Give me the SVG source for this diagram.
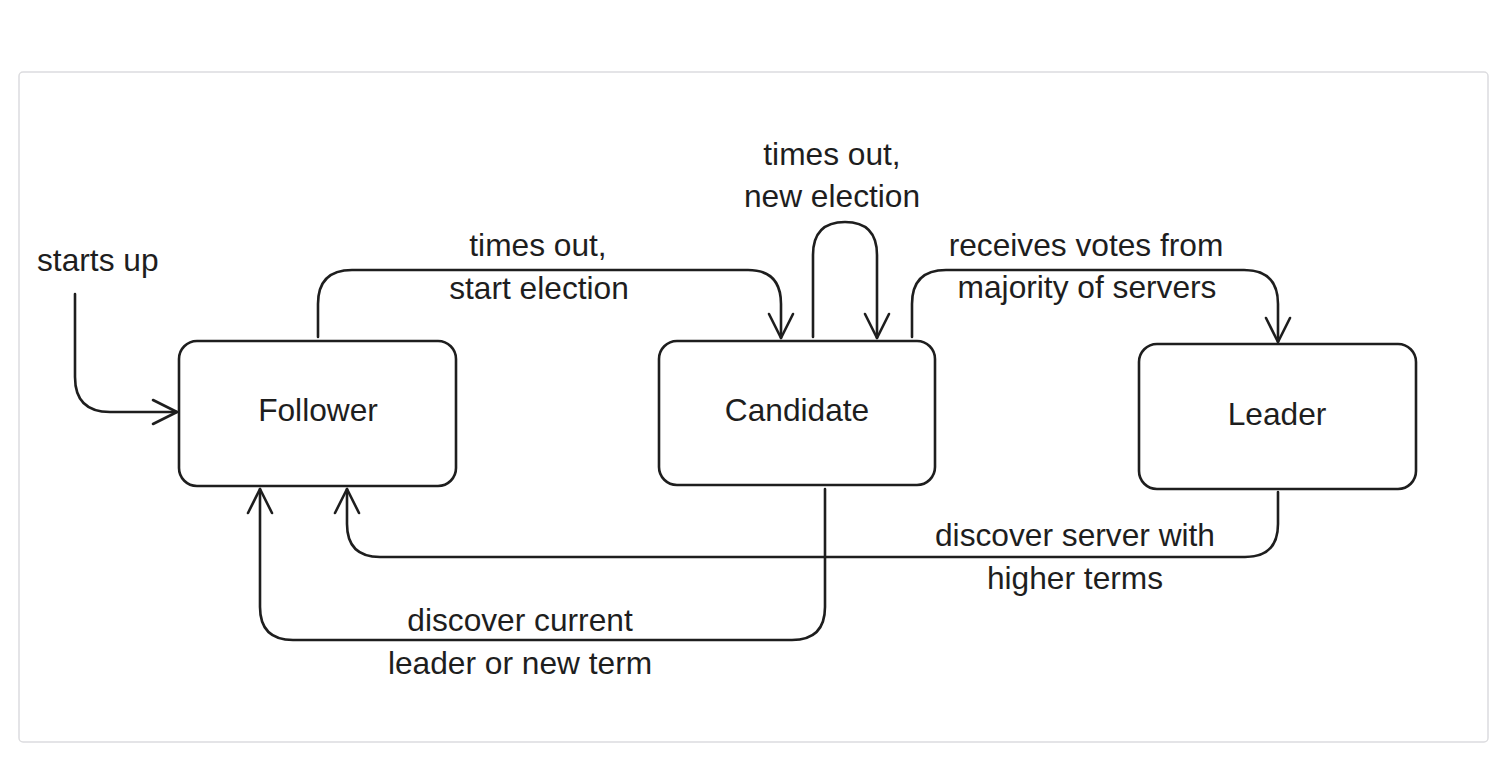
<svg xmlns="http://www.w3.org/2000/svg" width="1509" height="763" viewBox="0 0 1509 763">
<style>
.node{fill:#fff;stroke:#1e1e1e;stroke-width:2.6}
.edge{fill:none;stroke:#1e1e1e;stroke-width:2.6;stroke-linecap:round;stroke-linejoin:round}
text{font-family:"Liberation Sans",Arial,sans-serif;font-size:31.7px;fill:#1e1e1e}
.c{text-anchor:middle}
</style>
<defs>
<marker id="arr" viewBox="-30 -15 34 30" markerWidth="34" markerHeight="30" refX="0" refY="0" orient="auto" markerUnits="userSpaceOnUse">
<path d="M-24,-12 L0,0 L-24,12" fill="none" stroke="#1e1e1e" stroke-width="2.6" stroke-linecap="round" stroke-linejoin="round"/>
</marker>
</defs>
<rect width="1509" height="763" fill="#fff"/>
<rect x="19" y="72" width="1469" height="670" rx="4" fill="#fff" stroke="#dcdcdf" stroke-width="1.5"/>

<g id="connectors">
<path class="edge" d="M75,294 L75,377 Q75,412 110,412 L177,412" marker-end="url(#arr)"/>
<path class="edge" d="M318,337 L318,304 Q318,270 352,270 L748,270 Q781,270 781,304 L781,338" marker-end="url(#arr)"/>
<path class="edge" d="M813,337 L813,255 Q813,222 845,222 Q877,222 877,255 L877,338" marker-end="url(#arr)"/>
<path class="edge" d="M912,337 L912,304 Q912,270 946,270 L1244,270 Q1278,270 1278,304 L1278,342" marker-end="url(#arr)"/>
<path class="edge" d="M1278,492 L1278,524 Q1278,557 1245,557 L380,557 Q347,557 347,524 L347,489" marker-end="url(#arr)"/>
<path class="edge" d="M825,489 L825,607 Q825,640 792,640 L293,640 Q260,640 260,607 L260,489" marker-end="url(#arr)"/>
</g>

<g id="labels">
<text x="37" y="271">starts up</text>
<text class="c" x="538" y="256">times out,</text>
<text class="c" x="539" y="299">start election</text>
<text class="c" x="832" y="165">times out,</text>
<text class="c" x="832" y="207">new election</text>
<text class="c" x="1086" y="256">receives votes from</text>
<text class="c" x="1087" y="298">majority of servers</text>
<text class="c" x="1075" y="546">discover server with</text>
<text class="c" x="1075" y="589">higher terms</text>
<text class="c" x="520" y="631">discover current</text>
<text class="c" x="520" y="674">leader or new term</text>
</g>

<g id="follower">
<rect class="node" x="179" y="341" width="277" height="145" rx="18"/>
<text class="c" x="318" y="421">Follower</text>
</g>
<g id="candidate">
<rect class="node" x="659" y="341" width="276" height="144" rx="18"/>
<text class="c" x="797" y="421">Candidate</text>
</g>
<g id="leader">
<rect class="node" x="1139" y="344" width="277" height="145" rx="18"/>
<text class="c" x="1277" y="425">Leader</text>
</g>
</svg>
